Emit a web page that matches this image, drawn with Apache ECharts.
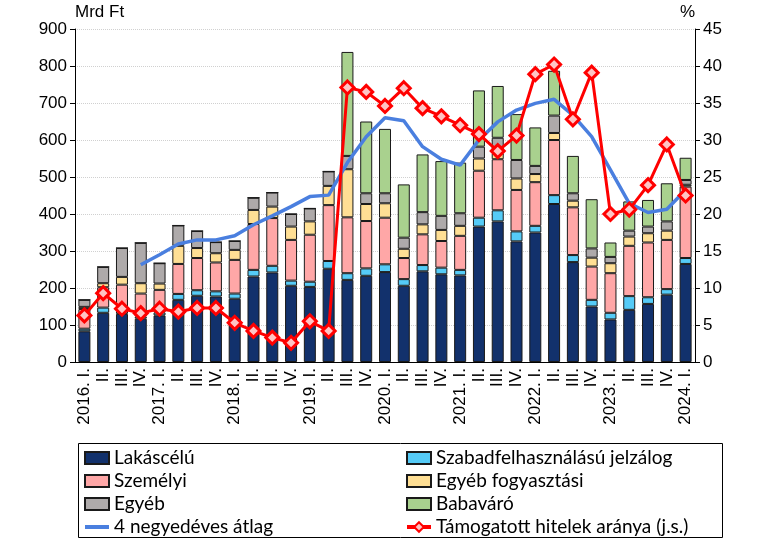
<!DOCTYPE html>
<html>
<head>
    <meta charset="UTF-8">
    <title>Hitelek</title>
    <script src="https://cdn.jsdelivr.net/npm/echarts@6/dist/echarts.min.js"></script>
    <style>
        html, body { margin: 0; padding: 0; background: #fff; }
    </style>
</head>
<body>
<div id="main1" style="width: 760px;height:539px;"></div>
<script type="text/javascript">

    // negyedevek
    var quarters = [
        '2016. I.', 'II.', 'III.', 'IV.',
        '2017. I.', 'II.', 'III.', 'IV.',
        '2018. I.', 'II.', 'III.', 'IV.',
        '2019. I.', 'II.', 'III.', 'IV.',
        '2020. I.', 'II.', 'III.', 'IV.',
        '2021. I.', 'II.', 'III.', 'IV.',
        '2022. I.', 'II.', 'III.', 'IV.',
        '2023. I.', 'II.', 'III.', 'IV.',
        '2024. I.'
    ];

    // Mrd Ft
    var lakascelu = [83, 133, 130, 117, 126, 168, 179, 177, 171, 231, 242, 206, 203, 252, 222, 233,
        243, 206, 245, 237, 234, 366, 380, 326, 350, 427, 270, 150, 115, 141, 157, 182, 265];
    var szabad = [7, 14, 8, 6, 8, 16, 15, 14, 14, 18, 18, 14, 14, 21, 18, 20,
        21, 18, 17, 18, 15, 24, 30, 27, 18, 24, 19, 18, 18, 37, 18, 15, 16];
    var szemelyi = [53, 55, 71, 62, 61, 81, 87, 78, 91, 124, 129, 110, 127, 151, 151, 128,
        126, 57, 83, 72, 92, 127, 138, 112, 118, 149, 129, 90, 107, 136, 148, 133, 193];
    var egyebFogy = [6, 11, 21, 28, 17, 49, 27, 25, 27, 38, 31, 36, 36, 52, 130, 46,
        39, 25, 27, 30, 27, 33, 16, 31, 22, 19, 18, 24, 27, 25, 25, 25, 5];
    var egyeb = [19, 44, 78, 109, 55, 55, 46, 30, 24, 33, 38, 34, 35, 39, 36, 29,
        27, 30, 33, 38, 34, 32, 42, 50, 22, 47, 20, 25, 17, 16, 18, 25, 13];
    var babavaro = [0, 0, 0, 0, 0, 0, 0, 0, 0, 0, 0, 0, 0, 0, 281, 194,
        174, 144, 156, 148, 137, 152, 140, 124, 104, 121, 101, 133, 39, 79, 72, 103, 60];
    var atlag = [null, null, null, 263, 290, 319, 330, 330, 341, 371, 395, 420, 447, 451, 539, 609,
        660, 652, 582, 548, 532, 600, 649, 681, 699, 710, 667, 609, 519, 429, 404, 413, 465];
    // %, jobb skala
    var tamogatott = [6.3, 9.3, 7.2, 6.6, 7.2, 6.8, 7.3, 7.3, 5.3, 4.2, 3.3, 2.6, 5.5, 4.2, 37.1, 36.5,
        34.6, 37.0, 34.3, 33.2, 32.0, 30.8, 28.5, 30.6, 38.9, 40.2, 32.8, 39.1, 20.0, 20.6, 23.9, 29.4, 22.5];

    var chartDom = document.getElementById('main1');
    var myChart = echarts.init(chartDom);
    var option;

    var fnt = 'Liberation Sans';
    var barBorder = { borderColor: '#1a1a1a', borderWidth: 1 };
    var legendText = { fontFamily: 'Lato', fontSize: 19, color: '#000', lineHeight: 20 };

    function barSeries(name, data, color) {
        return {
            name: name,
            type: 'bar',
            stack: 'total',
            barWidth: 12,
            data: data,
            itemStyle: Object.assign({ color: color }, barBorder)
        };
    }

    option = {
        animation: false,
        textStyle: { fontFamily: fnt },
        grid: { left: 75, right: 65, top: 29, bottom: 177 },
        legend: [
            {
                orient: 'vertical',
                left: 83,
                top: 448,
                height: 100,
                padding: 0,
                itemWidth: 24,
                itemHeight: 12,
                itemGap: 3,
                textStyle: legendText,
                data: [
                    { name: 'Lakáscélú', icon: 'rect' },
                    { name: 'Személyi', icon: 'rect' },
                    { name: 'Egyéb', icon: 'rect' },
                    { name: '4 negyedéves átlag', itemStyle: { opacity: 0 }, lineStyle: { width: 4 } }
                ]
            },
            {
                orient: 'vertical',
                left: 405,
                top: 448,
                height: 100,
                padding: 0,
                itemWidth: 24,
                itemHeight: 12,
                itemGap: 3,
                textStyle: legendText,
                data: [
                    { name: 'Szabadfelhasználású jelzálog', icon: 'rect' },
                    { name: 'Egyéb fogyasztási', icon: 'rect' },
                    { name: 'Babaváró', icon: 'rect' },
                    { name: 'Támogatott hitelek aránya (j.s.)', lineStyle: { width: 4 } }
                ]
            }
        ],
        graphic: [
            {
                type: 'rect',
                shape: { x: 78.5, y: 443.5, width: 644, height: 94 },
                style: { fill: 'none', stroke: '#000', lineWidth: 1 }
            }
        ],
        xAxis: {
            type: 'category',
            data: quarters,
            axisLine: { lineStyle: { color: '#000', width: 1 } },
            axisTick: { show: false },
            axisLabel: { rotate: 90, interval: 0, fontSize: 17, color: '#000', margin: 6 }
        },
        yAxis: [
            {
                type: 'value',
                min: 0,
                max: 900,
                interval: 100,
                name: 'Mrd Ft',
                nameLocation: 'end',
                nameGap: 8,
                nameTextStyle: { align: 'left', fontSize: 17, color: '#000' },
                axisLine: { show: true, lineStyle: { color: '#000' } },
                axisTick: { show: true, length: 5, lineStyle: { color: '#000' } },
                axisLabel: { fontSize: 17, color: '#000', margin: 8 },
                splitLine: { lineStyle: { color: '#d0d0d0', type: 'dotted' } }
            },
            {
                type: 'value',
                min: 0,
                max: 45,
                interval: 5,
                name: '%',
                nameLocation: 'end',
                nameGap: 8,
                nameTextStyle: { align: 'right', fontSize: 17, color: '#000' },
                axisLine: { show: true, lineStyle: { color: '#000' } },
                axisTick: { show: true, length: 5, lineStyle: { color: '#000' } },
                axisLabel: { fontSize: 17, color: '#000', margin: 8 },
                splitLine: { show: false }
            }
        ],
        series: [
            barSeries('Lakáscélú', lakascelu, '#12316c'),
            barSeries('Szabadfelhasználású jelzálog', szabad, '#55cbf7'),
            barSeries('Személyi', szemelyi, '#ffa7a7'),
            barSeries('Egyéb fogyasztási', egyebFogy, '#ffdf94'),
            barSeries('Egyéb', egyeb, '#aeaaaa'),
            barSeries('Babaváró', babavaro, '#a9d18e'),
            {
                name: '4 negyedéves átlag',
                type: 'line',
                data: atlag,
                symbol: 'none',
                z: 5,
                lineStyle: { color: '#4a7fdf', width: 3.5 },
                itemStyle: { color: '#4a7fdf' }
            },
            {
                name: 'Támogatott hitelek aránya (j.s.)',
                type: 'line',
                yAxisIndex: 1,
                data: tamogatott,
                symbol: 'diamond',
                symbolSize: 13,
                z: 6,
                lineStyle: { color: '#ff0000', width: 3 },
                itemStyle: { color: '#ffc4c4', borderColor: '#ff0000', borderWidth: 3 }
            }
        ]
    };

    option && myChart.setOption(option);
</script>
</body>
</html>
